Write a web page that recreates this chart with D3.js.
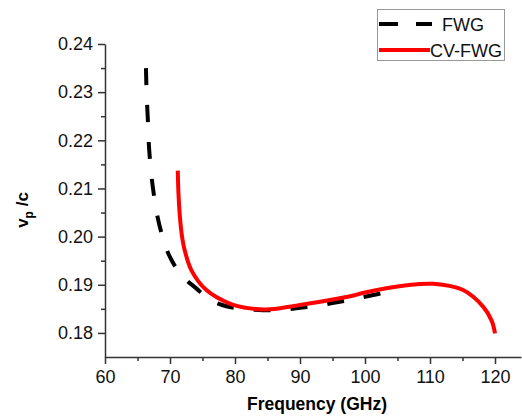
<!DOCTYPE html>
<html>
<head>
<meta charset="utf-8">
<script src="https://cdn.jsdelivr.net/npm/d3@7"></script>
<style>
  body { margin: 0; background: #fff; }
  svg { font-family: Arial, "Liberation Sans", sans-serif; }
  .axis path, .axis line { stroke: #333; stroke-width: 1.5; }
  .axis text { font-size: 18px; fill: #111; }
</style>
</head>
<body>
<svg></svg>
<script>
// Data
const fwgFreq = [66.3, 66.4, 66.6, 66.8, 67.2, 67.6, 68.1, 68.7, 69.7, 71.2, 72.5, 74, 76, 78, 80, 83, 86, 90, 95, 100, 105];
const fwgVp = [0.235, 0.230, 0.224, 0.218, 0.212, 0.208, 0.204, 0.2007, 0.1966, 0.193, 0.191, 0.1893, 0.1870, 0.1858, 0.1852, 0.1848, 0.1847, 0.1852, 0.1862, 0.1875, 0.1890];
const cvFreq = [71.2, 71.3, 71.5, 71.8, 72.2, 73.3, 75.6, 79.2, 82.3, 85.4, 90, 97.7, 100, 106.4, 110.5, 115.1, 118.2, 119.5, 120];
const cvVp = [0.2137, 0.209, 0.2045, 0.2005, 0.1975, 0.1930, 0.1889, 0.1861, 0.1851, 0.1849, 0.1858, 0.1876, 0.1884, 0.1899, 0.1902, 0.1889, 0.1854, 0.1825, 0.1799];
const xTicks = [60, 70, 80, 90, 100, 110, 120];
const yTicks = [0.18, 0.19, 0.20, 0.21, 0.22, 0.23, 0.24];
const seriesNames = ["FWG", "CV-FWG"];

const w = 522;
const h = 419;
const margin = { left: 105, right: 1, top: 44, bottom: 62 };

const svg = d3.select("svg")
  .attr("width", w)
  .attr("height", h);

const x = d3.scaleLinear()
  .domain([60, 124])
  .range([margin.left, w - margin.right]);

const y = d3.scaleLinear()
  .domain([0.175, 0.24])
  .range([h - margin.bottom, margin.top]);

// minor ticks
svg.append("g")
  .attr("class", "axis")
  .attr("transform", `translate(0,${h - margin.bottom})`)
  .call(d3.axisBottom(x).tickValues(d3.range(65, 124, 10)).tickSize(4).tickFormat(""))
  .select(".domain").remove();

svg.append("g")
  .attr("class", "axis")
  .attr("transform", `translate(${margin.left},0)`)
  .call(d3.axisLeft(y).tickValues(d3.range(0.185, 0.24, 0.01)).tickSize(4).tickFormat(""))
  .select(".domain").remove();

// major axes
svg.append("g")
  .attr("class", "axis")
  .attr("transform", `translate(0,${h - margin.bottom})`)
  .call(d3.axisBottom(x).tickValues(xTicks).tickSize(7).tickSizeOuter(0).tickPadding(5))
  .selectAll("text").attr("dy", "0.8em");

svg.append("g")
  .attr("class", "axis")
  .attr("transform", `translate(${margin.left},0)`)
  .call(d3.axisLeft(y).tickValues(yTicks).tickSize(7).tickSizeOuter(0).tickPadding(5).tickFormat(d3.format(".2f")));

// axis titles
svg.append("text")
  .attr("x", 317)
  .attr("y", 410)
  .attr("text-anchor", "middle")
  .attr("font-size", 17.5)
  .attr("font-weight", "bold")
  .text("Frequency (GHz)");

const yTitle = svg.append("text")
  .attr("transform", "translate(28,210) rotate(-90)")
  .attr("text-anchor", "middle")
  .attr("font-size", 17)
  .attr("font-weight", "bold");
yTitle.append("tspan").text("v");
yTitle.append("tspan").attr("font-size", 12).attr("dy", 5).text("p");
yTitle.append("tspan").attr("dy", -5).text(" /c");

// curves
const line = d3.line()
  .x((d) => x(d[0]))
  .y((d) => y(d[1]))
  .curve(d3.curveCatmullRom.alpha(0.5));

svg.append("path")
  .datum(d3.zip(fwgFreq, fwgVp))
  .attr("fill", "none")
  .attr("stroke", "#000")
  .attr("stroke-width", 4)
  .attr("stroke-dasharray", "17,20")
  .attr("d", line);

svg.append("path")
  .datum(d3.zip(cvFreq, cvVp))
  .attr("fill", "none")
  .attr("stroke", "#ff0000")
  .attr("stroke-width", 4)
  .attr("d", line);

// legend
const legend = svg.append("g");
legend.append("rect")
  .attr("x", 377.5)
  .attr("y", 9.5)
  .attr("width", 127)
  .attr("height", 51)
  .attr("fill", "#fff")
  .attr("stroke", "#999");

legend.append("line")
  .attr("x1", 379).attr("x2", 432)
  .attr("y1", 24).attr("y2", 24)
  .attr("stroke", "#000")
  .attr("stroke-width", 4)
  .attr("stroke-dasharray", "19,18");

legend.append("line")
  .attr("x1", 379).attr("x2", 430)
  .attr("y1", 50).attr("y2", 50)
  .attr("stroke", "#ff0000")
  .attr("stroke-width", 4);

legend.selectAll("text.lbl")
  .data(seriesNames)
  .enter()
  .append("text")
  .attr("class", "lbl")
  .attr("x", (d, i) => i === 0 ? 442 : 430)
  .attr("y", (d, i) => i === 0 ? 31 : 57)
  .attr("font-size", 18)
  .attr("fill", "#111")
  .text((d) => d);
</script>
</body>
</html>
